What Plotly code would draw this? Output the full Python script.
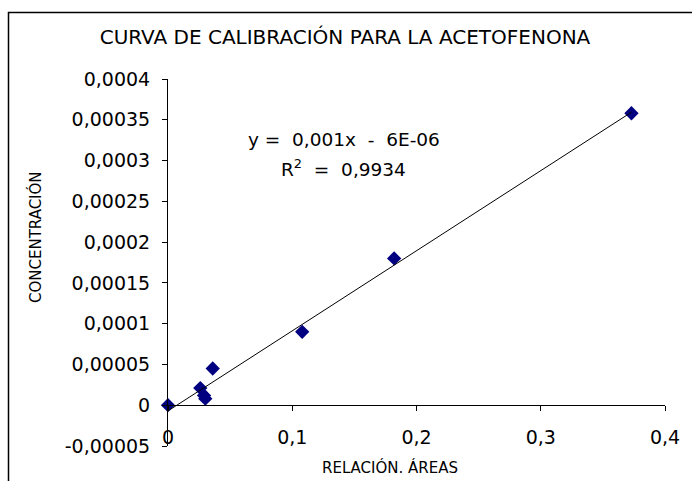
import numpy as np
import plotly.graph_objects as go

# Calibration data: area ratio vs. concentration
relacion_areas = [0.0, 0.026, 0.029, 0.030, 0.036, 0.108, 0.182, 0.373]
concentracion = [0.0, 0.000021, 0.000012, 0.000008, 0.000045, 0.000090, 0.000180, 0.000358]

x_tickvals = [0, 0.1, 0.2, 0.3, 0.4]
x_ticktext = ["0", "0,1", "0,2", "0,3", "0,4"]
y_tickvals = [-0.00005, 0, 0.00005, 0.0001, 0.00015, 0.0002, 0.00025, 0.0003, 0.00035, 0.0004]
y_ticktext = ["-0,00005", "0", "0,00005", "0,0001", "0,00015", "0,0002",
              "0,00025", "0,0003", "0,00035", "0,0004"]

title_text = "CURVA DE CALIBRACIÓN PARA LA ACETOFENONA"
eq_text = "y =&nbsp; 0,001x&nbsp; -&nbsp; 6E-06"
r2_text = "R<sup>2</sup>&nbsp; =&nbsp; 0,9934"

# Linear least-squares trendline over the measured range
slope, intercept = np.polyfit(relacion_areas, concentracion, 1)
x_fit = np.array([min(relacion_areas), max(relacion_areas)])
y_fit = slope * x_fit + intercept

FONT = "DejaVu Sans"
W, H = 692, 481
L, R, T, B = 168, 27, 79, 35
plot_w = W - L - R
plot_h = H - T - B

y_min, y_max = -0.00005, 0.0004

fig = go.Figure()
fig.add_trace(go.Scatter(
    x=x_fit, y=y_fit, mode="lines", xaxis="x2",
    line=dict(color="black", width=1), hoverinfo="skip", showlegend=False,
))
fig.add_trace(go.Scatter(
    x=relacion_areas, y=concentracion, mode="markers",
    marker=dict(symbol="diamond", size=11, color="#000080"),
    cliponaxis=False, showlegend=False,
))

def px_x(px):
    return (px - L) / plot_w

def px_y(py):
    return (H - B - py) / plot_h

fig.update_layout(
    width=W, height=H,
    margin=dict(l=L, r=R, t=T, b=B),
    paper_bgcolor="white", plot_bgcolor="white",
    font=dict(family=FONT, size=17, color="black"),
    title=dict(text=title_text, x=(345 / W), xanchor="center",
               y=1 - 37 / H, yanchor="middle", yref="container",
               font=dict(family=FONT, size=20, color="black")),
    xaxis=dict(range=[0, 0.4], tickvals=x_tickvals, ticktext=x_ticktext,
               showline=False, showgrid=False, zeroline=False, ticks="",
               ticklabelstandoff=-22, tickfont=dict(size=19)),
    xaxis2=dict(range=[0, 0.4], overlaying="x", anchor="free",
                position=(0 - y_min) / (y_max - y_min),
                tickvals=x_tickvals, showticklabels=False,
                showline=True, linecolor="black", linewidth=1,
                ticks="outside", ticklen=5, tickcolor="black",
                showgrid=False, zeroline=False),
    yaxis=dict(range=[y_min, y_max], tickvals=y_tickvals, ticktext=y_ticktext,
               showline=True, linecolor="black", linewidth=1,
               ticks="outside", ticklen=5, tickcolor="black",
               ticklabelstandoff=8,
               showgrid=False, zeroline=False, tickfont=dict(size=19)),
    annotations=[
        dict(text="CONCENTRACIÓN", x=px_x(35), y=px_y(237), xref="paper", yref="paper",
             textangle=-90, showarrow=False, xanchor="center", yanchor="middle",
             font=dict(size=15)),
        dict(text="RELACIÓN. ÁREAS", x=px_x(390), y=px_y(467), xref="paper", yref="paper",
             showarrow=False, xanchor="center", yanchor="middle", font=dict(size=15)),
        dict(text=eq_text, x=px_x(344), y=px_y(139), xref="paper", yref="paper",
             showarrow=False, xanchor="center", yanchor="middle", font=dict(size=18.5)),
        dict(text=r2_text, x=px_x(343), y=px_y(168), xref="paper", yref="paper",
             showarrow=False, xanchor="center", yanchor="middle", font=dict(size=18.5)),
    ],
    shapes=[
        dict(type="rect", xref="paper", yref="paper",
             x0=px_x(8.5), y0=px_y(12.5), x1=px_x(W + 40), y1=px_y(H + 40),
             line=dict(color="black", width=1.5), fillcolor="rgba(0,0,0,0)", layer="below"),
    ],
)

fig.write_html("out.html")
